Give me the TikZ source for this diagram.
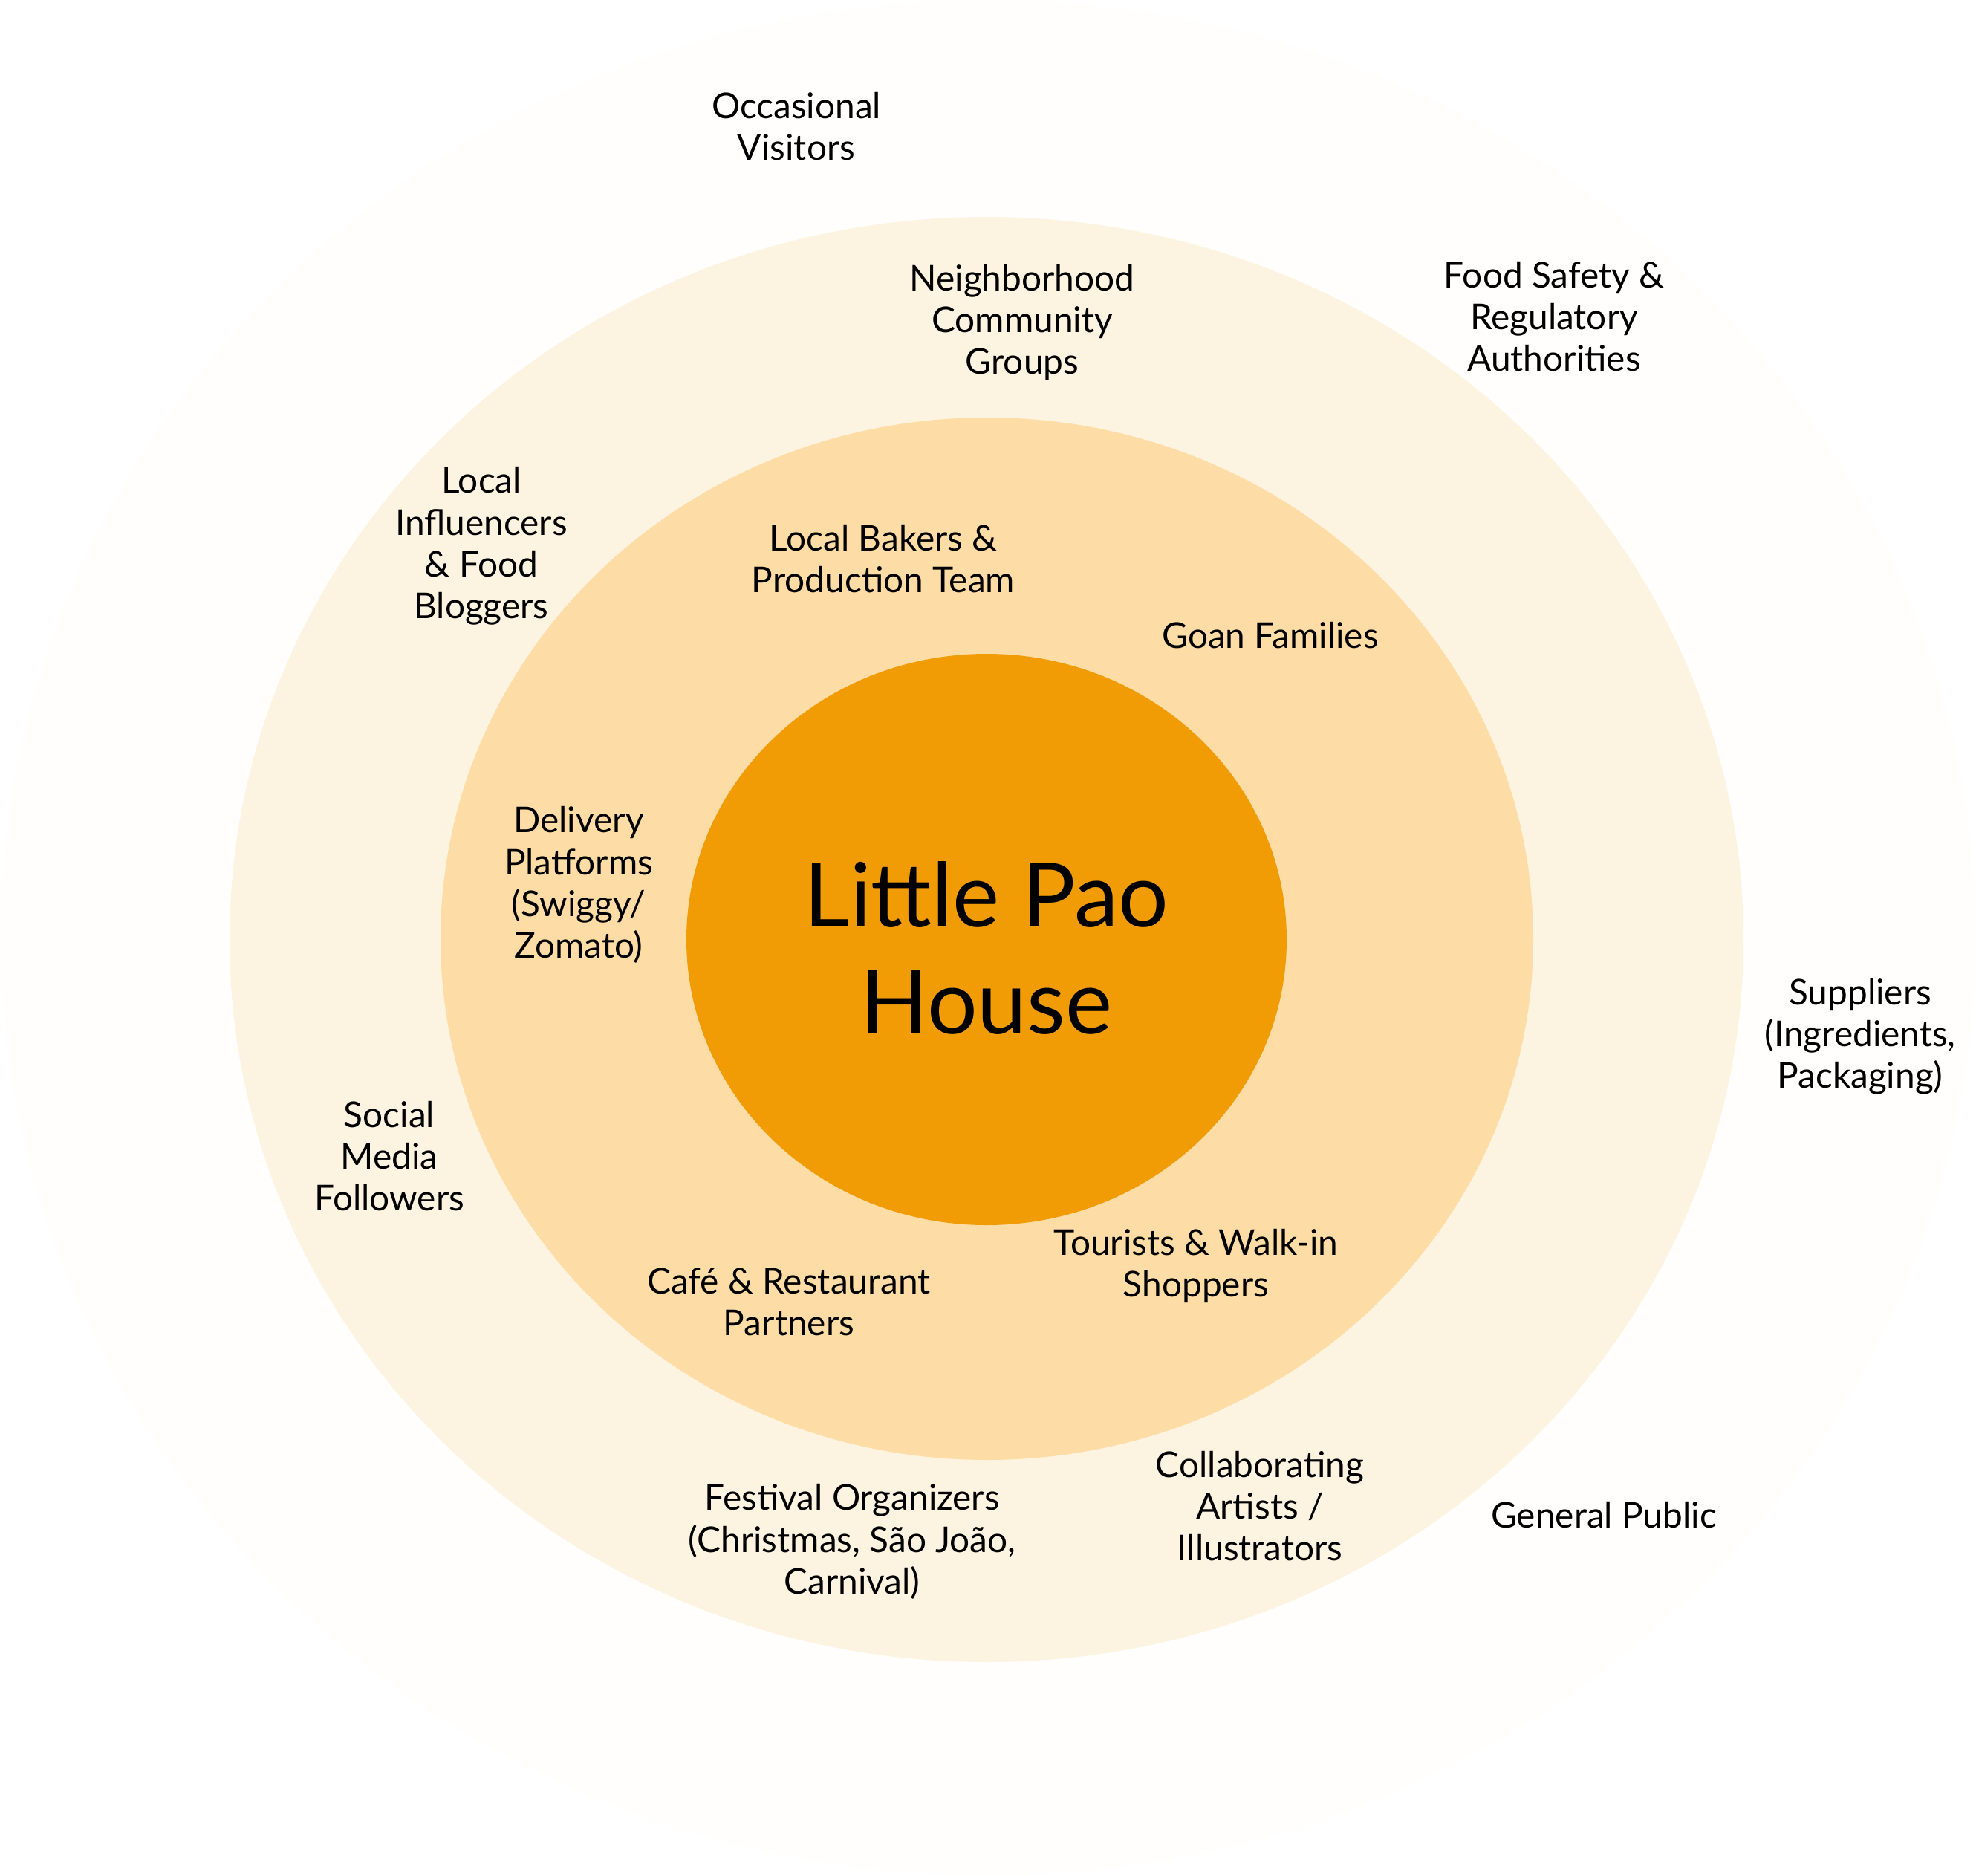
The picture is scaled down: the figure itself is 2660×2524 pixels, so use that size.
\documentclass[tikz,border=0pt]{standalone}
\usepackage{fontspec}
\setmainfont{Lato}
\definecolor{ringzero}{HTML}{FFFEFD}
\definecolor{ringone}{HTML}{FDF3E1}
\definecolor{ringtwo}{HTML}{FDDCA5}
\definecolor{core}{HTML}{F19C05}
\begin{document}
\begin{tikzpicture}[x=0.1mm,y=-0.1mm,
  lbl/.style={align=center,text=black,font=\fontsize{13.6pt}{16pt}\selectfont,inner sep=0pt},
  title/.style={align=center,text=black,font=\fontsize{34pt}{41pt}\selectfont,inner sep=0pt}]
\useasboundingbox (0,0) rectangle (2660,2524);
\fill[ringzero] (1330,1262) ellipse [x radius=133mm, y radius=126.2mm];
\fill[ringone] (1328,1264.5) ellipse [x radius=101.9mm, y radius=97.25mm];
\fill[ringtwo] (1328.5,1263.5) ellipse [x radius=73.55mm, y radius=70.15mm];
\fill[core] (1328,1264.5) ellipse [x radius=40.4mm, y radius=38.45mm];
\node[title] (center) at (1328,1276) {Little Pao\\House};
\node[lbl] (occ) at (1072,170) {Occasional\\Visitors};
\node[lbl] (neigh) at (1376,434) {Neighborhood\\Community\\Groups};
\node[lbl] (food) at (2092,426) {Food Safety \&\\Regulatory\\Authorities};
\node[lbl] (infl) at (648,735) {Local\\Influencers\\\& Food\\Bloggers};
\node[lbl] (bakers) at (1189,752) {Local Bakers \&\\Production Team};
\node[lbl] (goan) at (1710,855) {Goan Families};
\node[lbl] (deliv) at (779,1191) {Delivery\\Platforms\\(Swiggy/\\Zomato)};
\node[lbl] (supp) at (2504,1395) {Suppliers\\(Ingredients,\\Packaging)};
\node[lbl] (social) at (524,1556) {Social\\Media\\Followers};
\node[lbl] (tour) at (1610,1704) {Tourists \& Walk-in\\Shoppers};
\node[lbl] (cafe) at (1062,1752) {Café \& Restaurant\\Partners};
\node[lbl] (collab) at (1696,2027) {Collaborating\\Artists /\\Illustrators};
\node[lbl] (gen) at (2159,2039) {General Public};
\node[lbl] (fest) at (1147,2075) {Festival Organizers\\(Christmas, São João,\\Carnival)};
\end{tikzpicture}
\end{document}
